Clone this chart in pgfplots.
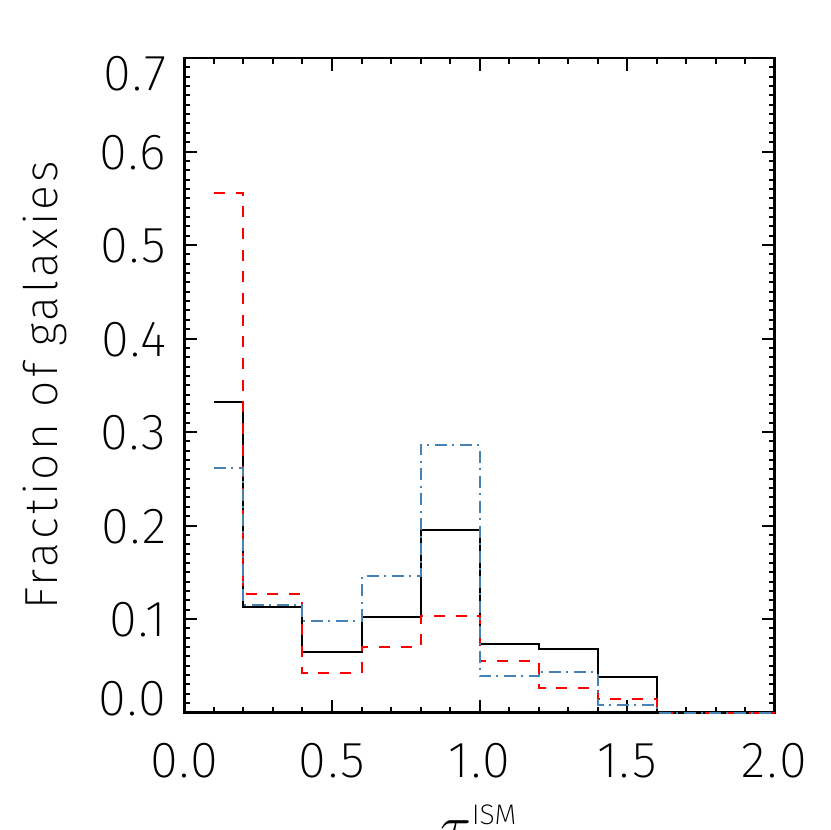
\documentclass[border=0pt]{standalone}
\usepackage{pgfplots}
\pgfplotsset{compat=1.18}
\usepackage{fontspec}
\setmainfont{Fira Sans ExtraLight}
\newfontfamily\spacedfont{Fira Sans ExtraLight}[LetterSpace=7]
\newfontfamily\tickfont{Fira Sans ExtraLight}[LetterSpace=4]
\definecolor{idlblue}{RGB}{70,130,180}

\begin{document}
\begin{tikzpicture}
% page = 830 px at 0.3pt per px; axis box lower-left at (0,0)
\useasboundingbox (-55.35pt,-35.25pt) rectangle (193.65pt,213.75pt);
\begin{axis}[
    at={(0,0)}, anchor=south west,
    scale only axis,
    width=177pt, height=196.35pt,
    xmin=0, xmax=2, ymin=0, ymax=0.7,
    xtick={0,0.5,1,1.5,2},
    xticklabels={0.0,0.5,1.0,1.5,2.0},
    ytick={0,0.1,0.2,0.3,0.4,0.5,0.6,0.7},
    yticklabels={\raisebox{4.35pt}{0.0},0.1,0.2,0.3,0.4,0.5,0.6,\raisebox{-4.5pt}{0.7}},
    minor x tick num=4,
    minor y tick num=9,
    tick align=inside,
    tick pos=both,
    major tick length=3.8pt,
    minor tick length=1.8pt,
    tick style={black, line width=0.6pt},
    axis line style={line width=0.8pt},
    xticklabel style={font=\tickfont\fontsize{15.2}{16}\selectfont, inner sep=0pt, anchor=north, yshift=-9.15pt},
    yticklabel style={font=\tickfont\fontsize{15.2}{16}\selectfont, inner sep=0pt, anchor=base east,
                      xshift=-5.25pt, yshift=-5.25pt},
    ylabel={Fraction of galaxies},
    ylabel style={at={(axis description cs:-0.216,0.5)}, anchor=base, inner sep=0pt,
                  font=\spacedfont\fontsize{13.9}{14}\selectfont},
    xlabel={$\tau_{\hbox{\fontsize{8.5}{9}\selectfont V}}^{\hbox{\fontsize{8.5}{9}\selectfont ISM}}$},
    xlabel style={at={(axis description cs:0.5,0)}, anchor=north, yshift=-27.5pt,
                  inner sep=0pt, font=\fontsize{16}{16}\selectfont},
    clip=false,
]
% all galaxies
\addplot[const plot, black, line width=0.6pt] coordinates {
    (0.1,0.332) (0.2,0.113) (0.4,0.065) (0.6,0.102) (0.8,0.1955)
    (1.0,0.0733) (1.2,0.0676) (1.4,0.0376) (1.6,0) (2.0,0)
};
% red dashed
\addplot[const plot, red, line width=0.6pt, dash pattern=on 3.3pt off 3.2pt] coordinates {
    (0.1,0.556) (0.2,0.1264) (0.4,0.0419) (0.6,0.0697) (0.8,0.1036)
    (1.0,0.0551) (1.2,0.0259) (1.4,0.0141) (1.6,0) (2.0,0)
};
% blue dash-dot
\addplot[const plot, idlblue, line width=0.6pt,
    dash pattern=on 3.6pt off 1.5pt on 0.6pt off 1.8pt] coordinates {
    (0.1,0.2615) (0.2,0.1145) (0.4,0.0982) (0.6,0.146) (0.8,0.2864)
    (1.0,0.0386) (1.2,0.0433) (1.4,0.0083) (1.6,0) (2.0,0)
};
\end{axis}
\end{tikzpicture}
\end{document}
